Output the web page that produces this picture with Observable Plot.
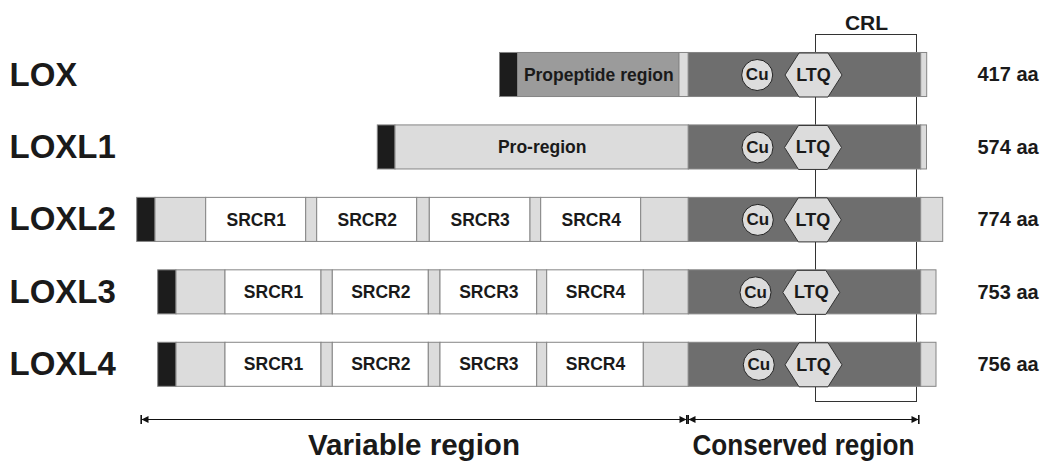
<!DOCTYPE html>
<html><head><meta charset="utf-8">
<script src="https://cdn.jsdelivr.net/npm/d3@7"></script>
<script src="https://cdn.jsdelivr.net/npm/@observablehq/plot@0.6"></script>
<style>body{margin:0;background:#fff;}</style>
</head><body><div id="chart"></div>
<script>
// ---- data (diagram units along the aligned protein axis) ----
const proteins = ["LOX","LOXL1","LOXL2","LOXL3","LOXL4"];
const lengthsAA = [417, 574, 774, 753, 756];

const loxEdges    = [499.5, 517.5, 679, 688.3, 920.7, 926.7];
const loxKinds    = ["signal","propeptide","linker","catalytic","tail"];
const loxLabels   = ["","Propeptide region","","",""];

const loxl1Edges  = [377.3, 395, 688.3, 920.7, 926.5];
const loxl1Kinds  = ["signal","pro","catalytic","tail"];
const loxl1Labels = ["","Pro-region","",""];

const loxl2Edges  = [136.7, 155, 205.7, 305.7, 316.7, 416.7, 429.3, 530, 540.7, 640.7, 688.3, 920.7, 942.7];
const loxl3Edges  = [157.7, 176, 225, 321, 332.3, 428.3, 440, 536.7, 546.7, 643.3, 688.3, 920.7, 936];
const loxl4Edges  = [157.7, 176, 225, 321, 332.3, 428.3, 440, 536.7, 546.7, 643.3, 688.3, 920.7, 936];
const srcrKinds   = ["signal","linker","srcr","linker","srcr","linker","srcr","linker","srcr","linker","catalytic","tail"];
const srcrLabels  = ["","","SRCR1","","SRCR2","","SRCR3","","SRCR4","","",""];

const cuCenter  = [756.7, 757, 757.3, 755, 758.3];
const ltqCenter = [813, 812.5, 812.3, 810.8, 813];
const crlSpan   = [815.5, 916.5];

const regionNames = ["Variable region", "Conserved region"];
const regionStart = [141, 688];
const regionEnd   = [686, 918];

// ---- build tables ----
const kindColor = {signal:"#1c1c1c", propeptide:"#9b9b9b", pro:"#dcdcdc", linker:"#dcdcdc",
                   tail:"#dcdcdc", srcr:"#ffffff", catalytic:"#6e6e6e"};
const perProtein = [
  [loxEdges, loxKinds, loxLabels],
  [loxl1Edges, loxl1Kinds, loxl1Labels],
  [loxl2Edges, srcrKinds, srcrLabels],
  [loxl3Edges, srcrKinds, srcrLabels],
  [loxl4Edges, srcrKinds, srcrLabels]
];
const segments = [];
perProtein.forEach(([edges, kinds, labels], row) => {
  kinds.forEach((k, j) => segments.push({row, x1: edges[j], x2: edges[j+1], kind: k, label: labels[j]}));
});
const rows = proteins.map((p, i) => ({row: i, name: p, cu: cuCenter[i], ltq: ltqCenter[i]}));
const regions = regionNames.map((n, i) => ({name: n, start: regionStart[i], end: regionEnd[i]}));
const arrowEnds = regions.flatMap(r => [{x: r.start, rot: 180}, {x: r.end, rot: 0}]);

const arrowRow = 4.755, textRow = 5.115;

const hexSymbol = {draw(ctx) {
  const w = 28.5, h = 22, t = 14.5;
  ctx.moveTo(-w, 0); ctx.lineTo(-t, -h); ctx.lineTo(t, -h);
  ctx.lineTo(w, 0); ctx.lineTo(t, h); ctx.lineTo(-t, h); ctx.closePath();
}};
const arrowHead = {draw(ctx) {
  ctx.moveTo(0, 0); ctx.lineTo(-7, -3.5); ctx.lineTo(-7, 3.5); ctx.closePath();
  ctx.rect(-0.5, -4.5, 1.6, 9);
}};

const bold = {fontWeight: "bold", fill: "#1a1a1a"};

const chart = Plot.plot({
  width: 1041, height: 462,
  marginLeft: 0, marginRight: 0, marginTop: 34.5, marginBottom: 60.5,
  style: {fontFamily: "'Liberation Sans', Arial, sans-serif", background: "#fff"},
  x: {domain: [0, 1041], axis: null},
  y: {domain: [0, 4], range: [74.5, 364.3]},
  marks: [
    // CRL bracket (behind the bars)
    Plot.rect([crlSpan], {x1: d => d[0], x2: d => d[1], fill: "none", stroke: "#333", strokeWidth: 1}),
    // domain segments
    Plot.rect(segments, {x1: "x1", x2: "x2", y1: d => d.row - 0.5, y2: d => d.row + 0.5,
      insetTop: 14.2, insetBottom: 14.2, fill: d => kindColor[d.kind], stroke: "#858585", strokeWidth: 1}),
    Plot.text(segments.filter(d => d.label), {x: d => (d.x1 + d.x2) / 2, y: "row", text: "label",
      fontSize: 17.5, ...bold}),
    // Cu and LTQ
    Plot.dot(rows, {x: "cu", y: "row", r: 15.5, fill: "#dcdcdc", stroke: "#222", strokeWidth: 1}),
    Plot.text(rows, {x: "cu", y: "row", text: () => "Cu", fontSize: 17, ...bold}),
    Plot.dot(rows, {x: "ltq", y: "row", symbol: hexSymbol, r: 10, fill: "#dcdcdc", stroke: "#333", strokeWidth: 1}),
    Plot.text(rows, {x: "ltq", y: "row", text: () => "LTQ", fontSize: 18, ...bold}),
    // CRL title
    Plot.text(["CRL"], {x: () => (crlSpan[0] + crlSpan[1]) / 2, frameAnchor: "top", lineAnchor: "bottom",
      dy: -5, text: d => d, fontSize: 21, ...bold}),
    // region arrows
    Plot.link(regions, {x1: "start", x2: "end", y1: arrowRow, y2: arrowRow, stroke: "#111", strokeWidth: 1.2}),
    Plot.dot(arrowEnds, {x: "x", y: arrowRow, symbol: arrowHead, r: 4, rotate: "rot", fill: "#111", stroke: "none"}),
    Plot.text(regions, {x: d => (d.start + d.end) / 2, y: textRow, text: "name", fontSize: 29,
      className: "region-label", ...bold}),
    // protein names and lengths
    Plot.axisY({anchor: "left", ticks: [0,1,2,3,4], tickFormat: i => proteins[i], tickSize: 0,
      textAnchor: "start", dx: 18, fontSize: 33, fontWeight: "bold", label: null, color: "#1a1a1a"}),
    Plot.axisY({anchor: "right", ticks: [0,1,2,3,4], tickFormat: i => lengthsAA[i] + " aa", tickSize: 0,
      textAnchor: "start", dx: -73, fontSize: 20, fontWeight: "bold", label: null, color: "#1a1a1a"})
  ]
});
// condense the two region captions slightly, like the original lettering
const regionWidths = [212, 222];
d3.select(chart).selectAll(".region-label text").each(function(d, i) {
  d3.select(this).attr("textLength", regionWidths[i]).attr("lengthAdjust", "spacingAndGlyphs");
});
document.getElementById("chart").appendChild(chart);
</script>
</body></html>
